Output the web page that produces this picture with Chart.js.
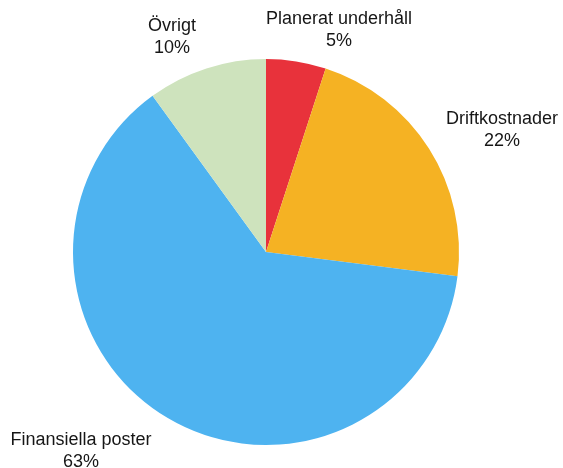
<!DOCTYPE html>
<html>
<head>
<meta charset="utf-8">
<script src="https://cdn.jsdelivr.net/npm/chart.js@4"></script>
<style>
  html, body { margin: 0; padding: 0; background: #fff; }
  #wrap { width: 563px; height: 468px; }
</style>
</head>
<body>
<div id="wrap"><canvas id="pieChart" width="563" height="468"></canvas></div>
<script>
const categories = ["Planerat underhåll", "Driftkostnader", "Finansiella poster", "Övrigt"];
const shares = [5, 22, 63, 10];
const colors = ["#e8323b", "#f5b223", "#4eb3f0", "#cee3bd"];

// label anchors (centre of each two-line label)
const labelSpots = [[339, 30], [502, 130], [81, 451], [172, 37]];

const labelPlugin = {
  id: "sliceLabels",
  afterDraw(chart) {
    const ctx = chart.ctx;
    const ds = chart.data.datasets[0];
    ctx.save();
    ctx.font = "18px 'Liberation Sans', Arial, sans-serif";
    ctx.fillStyle = "#161616";
    ctx.textAlign = "center";
    ctx.textBaseline = "middle";
    chart.data.labels.forEach(function (lab, i) {
      const p = labelSpots[i];
      ctx.fillText(lab, p[0], p[1] - 10.5);
      ctx.fillText(ds.data[i] + "%", p[0], p[1] + 11);
    });
    ctx.restore();
  },
};

window.addEventListener("load", function () {
  const ctx = document.getElementById("pieChart");
  new Chart(ctx, {
    type: "pie",
    data: {
      labels: categories,
      datasets: [
        {
          data: shares,
          backgroundColor: colors,
          borderWidth: 0,
        },
      ],
    },
    options: {
      responsive: false,
      animation: false,
      layout: {
        padding: { top: 59, bottom: 23, left: 73, right: 104 },
      },
      plugins: {
        legend: { display: false },
        tooltip: { enabled: false },
      },
    },
    plugins: [labelPlugin],
  });
});
</script>
</body>
</html>
